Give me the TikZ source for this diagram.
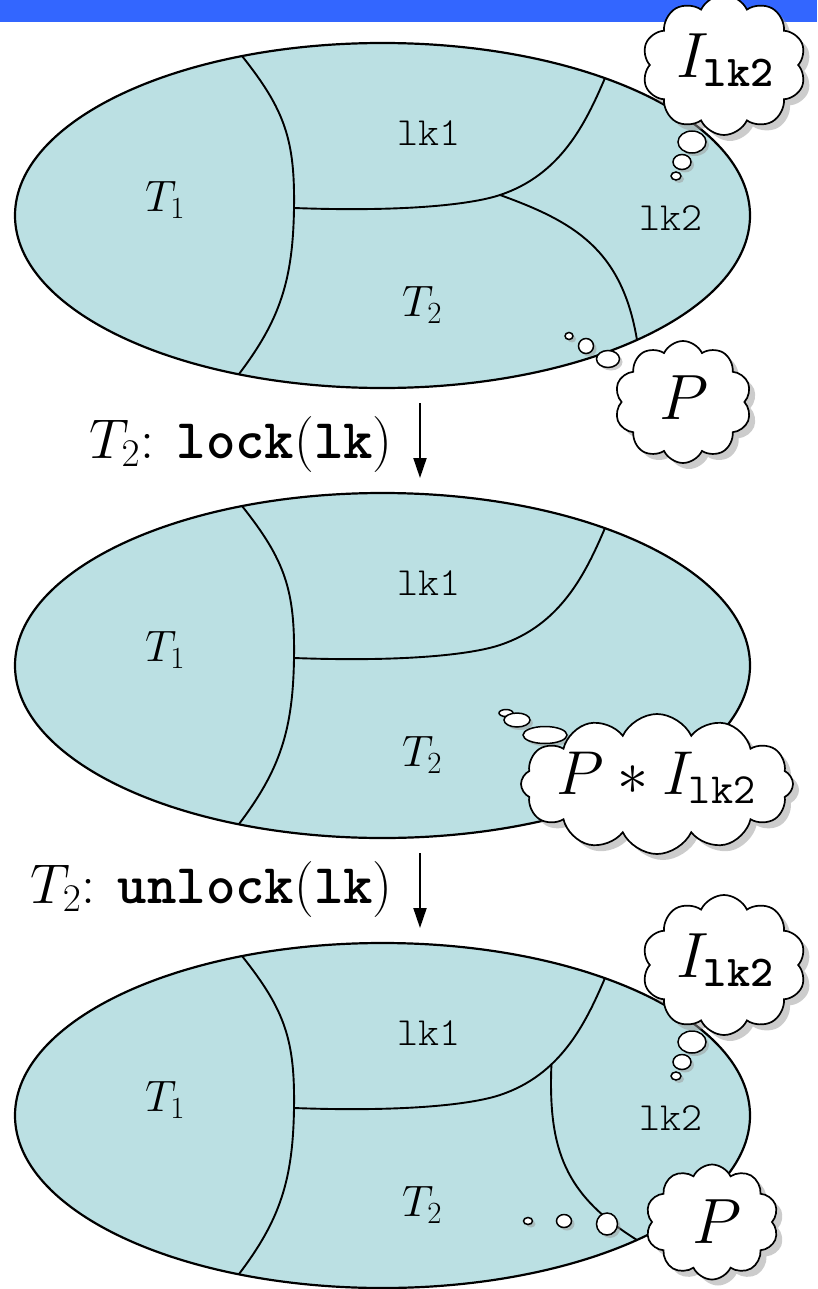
\documentclass[tikz,border=0pt]{standalone}
\usepackage{fix-cm}
\usetikzlibrary{shapes.symbols,shapes.geometric,shadows,arrows.meta}
\definecolor{barblue}{HTML}{3366FF}
\definecolor{regfill}{HTML}{BBE0E3}
\newcommand{\fs}[1]{\fontsize{#1}{#1}\selectfont}
\newcommand{\ttl}{\ttfamily\fontseries{l}\selectfont}
\newcommand{\ttb}[1]{{\ttfamily\bfseries #1}}
\tikzset{
  region/.style={ellipse, fill=regfill, draw=black, line width=2.2pt, inner sep=0pt,
                 minimum width=735, minimum height=345},
  divider/.style={line width=1.9pt},
  thought/.style={cloud, cloud puffs=#1, cloud puff arc=130, cloud ignores aspect,
                  draw, line width=1.7pt, fill=white, inner sep=0pt,
                  drop shadow={shadow xshift=6pt, shadow yshift=-6pt, fill=black!40}},
  bubble/.style={ellipse, draw, line width=1.5pt, fill=white, inner sep=0pt,
                 drop shadow={shadow xshift=3pt, shadow yshift=-3pt, fill=black!40}},
  steparrow/.style={line width=2pt, -{Triangle[width=13pt,length=20pt]}},
  tlabel/.style={font=\fs{44}, inner sep=0pt},
  lklabel/.style={font=\fs{40}\ttl, inner sep=0pt},
  steplabel/.style={font=\fs{56}, inner sep=0pt, anchor=base east},
  cloudtext/.style={font=\fs{64}, inner sep=0pt}
}
\newcommand{\drawpanel}[2]{%
  \begin{scope}[shift={(0,#2)}]
    \node[region] (#1) at (382.5,215.5) {};
    \draw[divider] (242,56) .. controls (285,110) and (295,140) .. (294,208)
                            .. controls (293,280) and (280,320) .. (239,374);
    \draw[divider] (294,208) .. controls (400,212) and (470,205) .. (500,195)
                  coordinate (#1-j)
                  .. controls (560,175) and (585,125) .. (605,78)
                  coordinate[pos=0.35] (#1-k);
    \node[tlabel] (#1-t1) at (165,200) {$T_1$};
    \node[lklabel] (#1-lk1) at (429,133) {lk1};
  \end{scope}}
\begin{document}
\begin{tikzpicture}[x=1pt,y=-1pt]
\useasboundingbox (0,0) rectangle (817,1289);
\fill[barblue] (0,0) rectangle (817,22);

% panel 1
\drawpanel{E1}{0}
\draw[divider] (E1-j) .. controls (575,222) and (622,250) .. (637,340);
\node[lklabel] (E1-lk2) at (671,218) {lk2};
\node[tlabel] (E1-t2) at (422,305) {$T_2$};

% panel 2
\drawpanel{E2}{450}
\node[tlabel] (E2-t2) at (422,755) {$T_2$};

% panel 3
\drawpanel{E3}{900}
\draw[divider] (E3-k) .. controls (548,1150) and (565,1195) .. (637,1240);
\node[lklabel] (E3-lk2) at (671,1118) {lk2};
\node[tlabel] (E3-t2) at (422,1205) {$T_2$};

% steps
\coordinate (a1s) at (420,403);
\coordinate (a1e) at (420,478);
\draw[steparrow] (a1s) -- (a1e);
\node[steplabel] (s1) at (393,458) {$T_2$: \ttb{lock}(\ttb{lk})};
\coordinate (a2s) at (420,853);
\coordinate (a2e) at (420,928);
\draw[steparrow] (a2s) -- (a2e);
\node[steplabel] (s2) at (393,903) {$T_2$: \ttb{unlock}(\ttb{lk})};

% cloud 1
\node[bubble, minimum width=10, minimum height=8] (b1c) at (676,176) {};
\node[bubble, minimum width=18, minimum height=15] (b1b) at (682,162) {};
\node[bubble, minimum width=28, minimum height=22] (b1a) at (692,142) {};
\node[thought=10, minimum width=164, minimum height=140] (c1) at (724,65) {};
\node[cloudtext] (c1t) at (725,60) {$I_{\hbox{\fs{44}\ttb{lk2}}}$};

% cloud 2
\node[bubble, minimum width=8, minimum height=7] (b2c) at (569,336) {};
\node[bubble, minimum width=15, minimum height=15] (b2b) at (586,346) {};
\node[bubble, minimum width=23, minimum height=17] (b2a) at (608,359) {};
\node[thought=10, minimum width=137, minimum height=122] (c2) at (683,402) {};
\node[cloudtext] (c2t) at (684,398) {$P$};

% cloud 3
\node[bubble, minimum width=14, minimum height=7] (b3c) at (506,713) {};
\node[bubble, minimum width=26, minimum height=14] (b3b) at (517,720) {};
\node[bubble, minimum width=44, minimum height=17] (b3a) at (545,735) {};
\node[thought=12, minimum width=272, minimum height=140] (c3) at (657,784) {};
\node[cloudtext, font=\fs{62}] (c3t) at (656,778) {$P * I_{\hbox{\fs{43}\ttfamily lk2}}$};

% cloud 4
\node[bubble, minimum width=10, minimum height=8] (b4c) at (676,1076) {};
\node[bubble, minimum width=18, minimum height=15] (b4b) at (682,1062) {};
\node[bubble, minimum width=28, minimum height=22] (b4a) at (692,1042) {};
\node[thought=10, minimum width=164, minimum height=140] (c4) at (724,965) {};
\node[cloudtext] (c4t) at (725,960) {$I_{\hbox{\fs{44}\ttb{lk2}}}$};

% cloud 5
\node[bubble, minimum width=9, minimum height=7] (b5c) at (528,1221) {};
\node[bubble, minimum width=15, minimum height=13] (b5b) at (564,1221) {};
\node[bubble, minimum width=21, minimum height=22] (b5a) at (607,1224) {};
\node[thought=10, minimum width=133, minimum height=115] (c5) at (712,1222) {};
\node[cloudtext] (c5t) at (717,1222) {$P$};
\end{tikzpicture}
\end{document}
